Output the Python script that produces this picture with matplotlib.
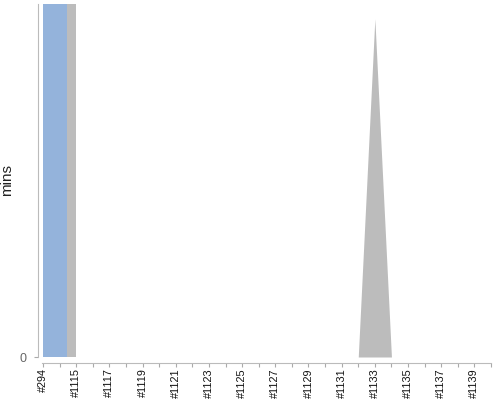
import matplotlib
matplotlib.use("Agg")
import matplotlib.pyplot as plt
import numpy as np

plt.rcParams['font.family'] = ['Liberation Sans', 'DejaVu Sans']

# build labels along the x axis (every other one is printed)
builds = ['#294', '#1114'] + ['#%d' % n for n in range(1115, 1141)]

# gray series per build (mins); only #1133 has a value on the right side
gray_mins = [0] * len(builds)
gray_mins[builds.index('#1133')] = 115

# left block: blue and gray sample runs along the build axis
blue_runs_x = [0.0, 1.42]
blue_runs_y = [120, 120]
gray_runs_x = [1.42, 2.0]
gray_runs_y = [120, 120]

y_top = 120
blue = '#94b3db'
gray = '#bcbcbc'

fig = plt.figure(figsize=(5, 4), dpi=100)
ax = fig.add_axes([0.084, 0.1075, 0.898, 0.8825])

xs = np.arange(len(builds))
ax.fill_between(xs, 0, gray_mins, color=gray, linewidth=0)
ax.fill_between(blue_runs_x, 0, blue_runs_y, color=blue, linewidth=0)
ax.fill_between(gray_runs_x, 0, gray_runs_y, color=gray, linewidth=0)

ax.set_xlim(-0.06, len(builds) - 1)
ax.set_ylim(0, y_top)

ax.set_xticks(xs)
ax.set_xticklabels([b if i % 2 == 0 else '' for i, b in enumerate(builds)])
ax.set_yticks([0])
ax.set_yticklabels(['0'])
ax.tick_params(axis='x', length=3, width=0.8, color='#aaaaaa', pad=1,
               labelrotation=90, labelsize=7.8, labelcolor='#111111')
ax.tick_params(axis='y', length=3, width=0.8, color='#aaaaaa', pad=5,
               labelsize=9, labelcolor='#666666')

for side in ['top', 'right']:
    ax.spines[side].set_visible(False)
ax.spines['left'].set_position(('outward', 3))
ax.spines['bottom'].set_position(('outward', 4))
ax.spines['left'].set_color('#bbbbbb')
ax.spines['bottom'].set_color('#bbbbbb')

ax.set_ylabel('mins', fontsize=11, color='#222222')
ax.yaxis.set_label_coords(-0.062, 0.5)

fig.savefig('out.png', dpi=100)
